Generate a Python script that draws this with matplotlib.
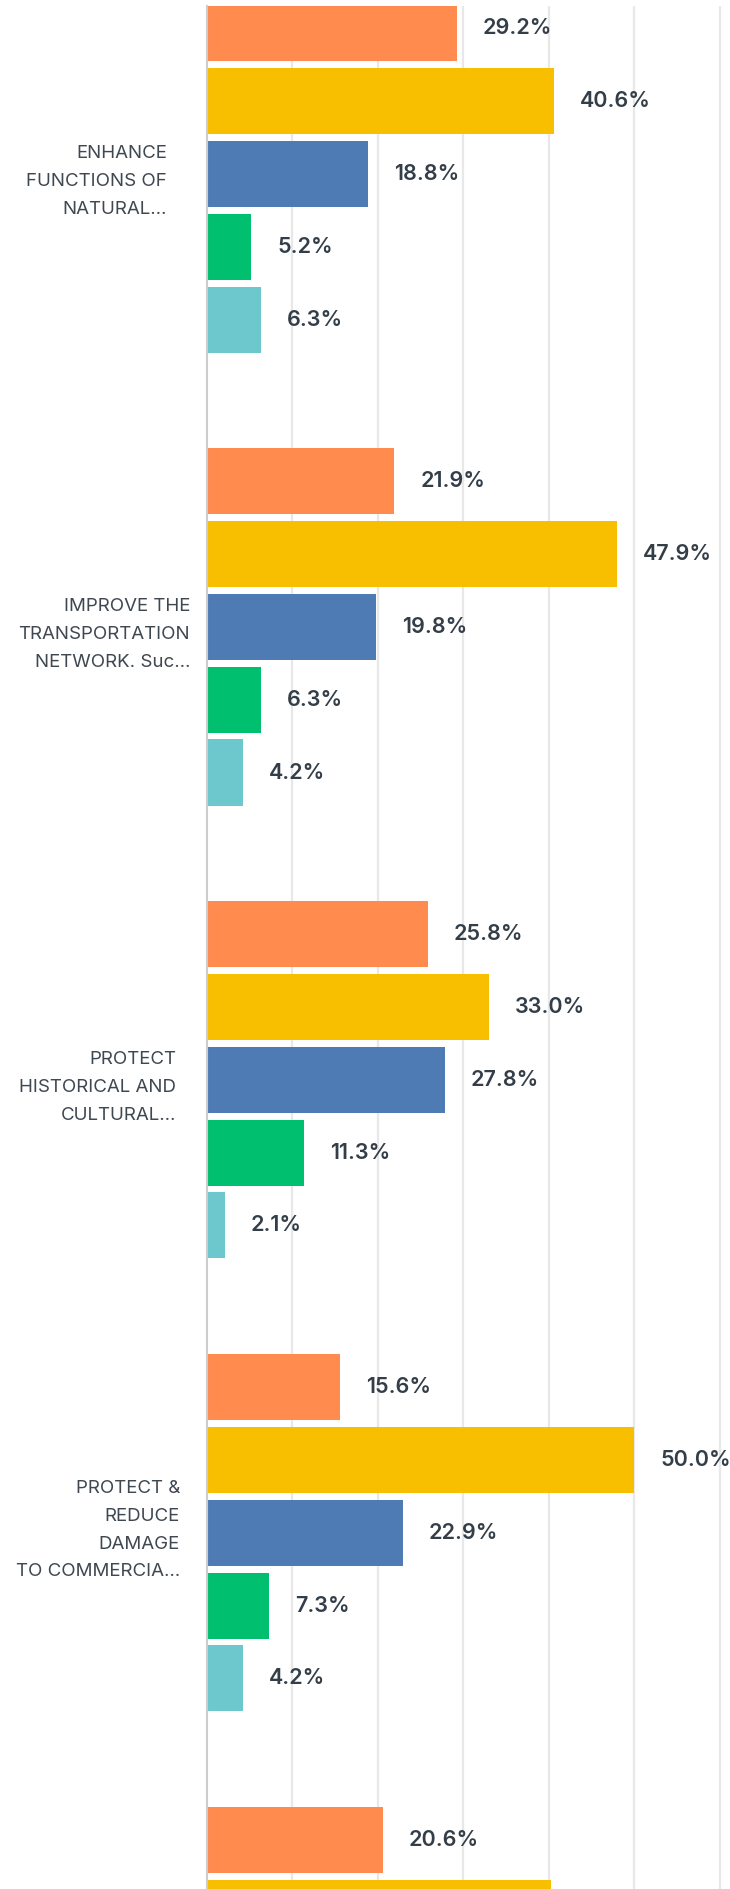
import numpy as np
import matplotlib.pyplot as plt
import matplotlib.transforms as mtransforms

plt.rcParams['font.family'] = ['Inter', 'DejaVu Sans']

# categories (the last one runs off the bottom of the picture)
categories = ["ENHANCE\nFUNCTIONS OF\nNATURAL…",
              "IMPROVE THE\nTRANSPORTATION\nNETWORK. Suc…",
              "PROTECT\nHISTORICAL AND\nCULTURAL…",
              "PROTECT &\nREDUCE\nDAMAGE\nTO COMMERCIA…",
              ""]
series_names = ["Series 1", "Series 2", "Series 3", "Series 4", "Series 5"]
# percent values per series, one entry per category (nan = not visible)
s1 = [29.2, 21.9, 25.8, 15.6, 20.6]
s2 = [40.6, 47.9, 33.0, 50.0, 40.2]
s3 = [18.8, 19.8, 27.8, 22.9, np.nan]
s4 = [5.2, 6.3, 11.3, 7.3, np.nan]
s5 = [6.3, 4.2, 2.1, 4.2, np.nan]
series = [s1, s2, s3, s4, s5]
colors = ['#FF8B4F', '#F8BE00', '#4F7BB5', '#00BF6F', '#6CC8CC']
text_col = '#333E48'

fig = plt.figure(figsize=(7.30, 18.89), dpi=100)
ax = fig.add_axes([207 / 730, 0, 1 - 207 / 730, 1883 / 1889])

group_step = 6.222
centers = np.arange(len(categories)) * group_step
for j, vals in enumerate(series):
    ypos = centers + (j - 2)
    bars = ax.barh(ypos, vals, height=0.907, color=colors[j], label=series_names[j], zorder=3)
    for b, v in zip(bars, vals):
        if np.isnan(v):
            continue
        ax.annotate(f"{v:.1f}%", (v, b.get_y() + b.get_height() / 2),
                    xytext=(18.7, 0), textcoords='offset points', va='center', ha='left',
                    fontsize=15.5, fontweight='semibold', color=text_col)

ax.set_xticks(np.arange(10, 61, 10))
ax.xaxis.grid(True, color='#E8E8E8', linewidth=1.6, zorder=0)
ax.tick_params(axis='x', length=0, labelbottom=False)
ax.set_yticks(centers)
ax.set_yticklabels(categories, fontsize=13.5, color='#3F4751', linespacing=1.83, ha='right')
ax.tick_params(axis='y', length=0, pad=22.3)
# small per-label shifts (pixels): right edge, vertical
shifts = [(-9, 0), (14, 0), (0, 0), (4, 10), (0, 0)]
for lab, (sx, sy) in zip(ax.get_yticklabels(), shifts):
    lab.set_transform(lab.get_transform() + mtransforms.ScaledTranslation(sx / 100, sy / 100, fig.dpi_scale_trans))
ax.set_xlim(0, 61.17)
ax.set_ylim(23.56, -2.308)
for sp in ['top', 'right', 'bottom']:
    ax.spines[sp].set_visible(False)
ax.spines['left'].set_color('#CCCCCC')
ax.spines['left'].set_linewidth(1.5)
ax.spines['left'].set_zorder(4)

fig.savefig('out.png', dpi=100)
